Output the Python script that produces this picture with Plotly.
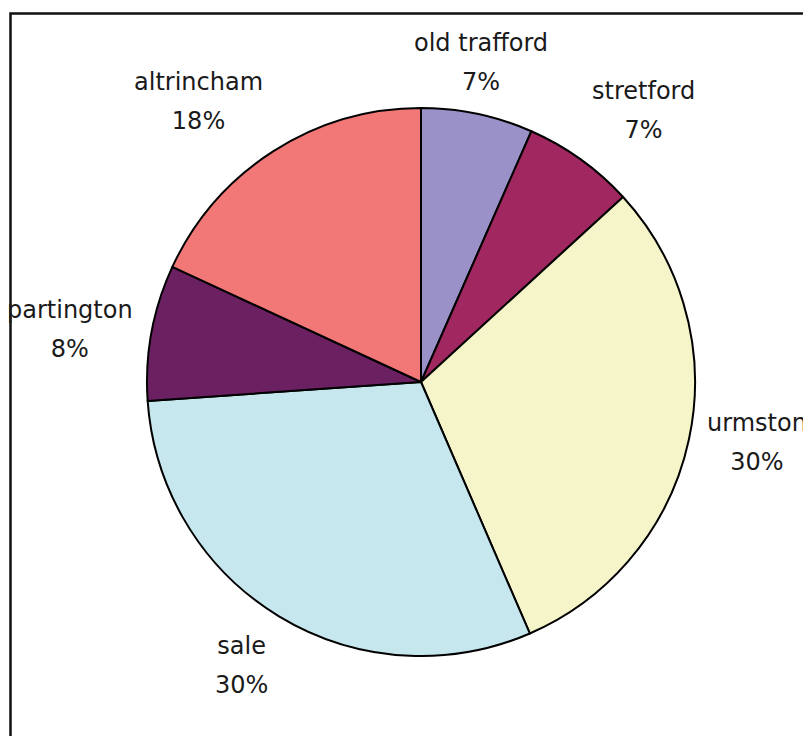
import math
import plotly.graph_objects as go

# ---- data ----
towns = ["old trafford", "stretford", "urmston", "sale", "partington", "altrincham"]
shares = [6.6, 6.6, 30.3, 30.4, 8.0, 18.1]
colors = ["#9A91C8", "#A0275F", "#F6F5C9", "#C6E7ED", "#6B2062", "#F27878"]

OFF = 8                     # page body margin
W, H = 811 - OFF, 736 - OFF
CX, CY, R = 421 - OFF, 382 - OFF, 274  # pie centre / radius in figure pixels

fig = go.Figure(go.Pie(
    labels=towns, values=shares, sort=False, direction="clockwise", rotation=0,
    marker=dict(colors=colors, line=dict(color="black", width=2)),
    textinfo="none", hoverinfo="label+percent",
    domain=dict(x=[(CX - R) / W, (CX + R) / W], y=[1 - (CY + R) / H, 1 - (CY - R) / H]),
    showlegend=False,
))

total = sum(shares)
cum = 0.0
annotations = []
for name, v in zip(towns, shares):
    mid = (cum + v / 2) / total * 2 * math.pi
    cum += v
    s, c = math.sin(mid), math.cos(mid)
    d = R * 1.06
    px = CX + d * s
    py = CY - d * c
    xa = "left" if s > 0.3 else ("right" if s < -0.3 else "center")
    ya = "bottom" if c > 0.3 else ("top" if c < -0.3 else "middle")
    pct = f"{int(v / total * 100 + 0.5)}%"
    txt = (f"<span style='font-size:24px'>{name}</span><br>"
           f"<span style='font-size:24px'>{pct}</span>")
    annotations.append(dict(
        x=px / W, y=1 - py / H, xref="paper", yref="paper",
        xanchor=xa, yanchor=ya, text=txt, showarrow=False, align="center",
        font=dict(family="DejaVu Sans", size=30, color="#1a1a1a"),
    ))

fig.update_layout(
    width=W, height=H, margin=dict(l=0, r=0, t=0, b=0),
    paper_bgcolor="white", plot_bgcolor="white",
    annotations=annotations,
    shapes=[dict(type="rect", xref="paper", yref="paper",
                 x0=(10.5 - OFF) / W, x1=1.05, y0=-0.05, y1=1 - (13.5 - OFF) / H,
                 line=dict(color="#111111", width=2.5))],
)

fig.write_html("out.html")
